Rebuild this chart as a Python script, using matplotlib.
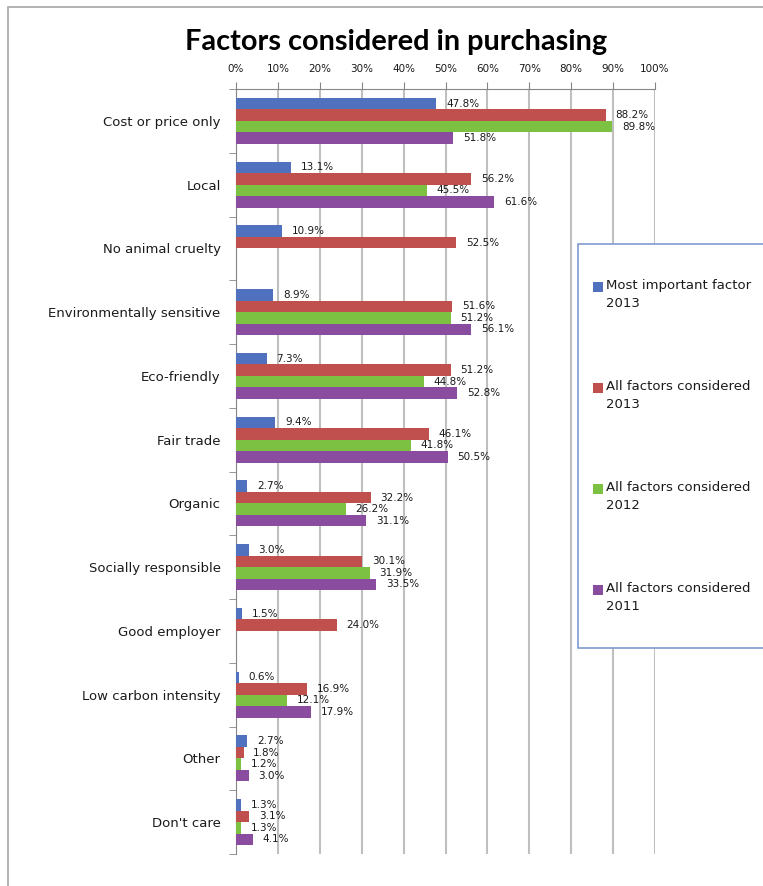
import numpy as np
import matplotlib
matplotlib.use('Agg')
import matplotlib.pyplot as plt
from matplotlib.patches import Rectangle, Patch
from matplotlib.legend_handler import HandlerPatch
from matplotlib.ticker import FixedLocator, PercentFormatter

# data
categories = ['Cost or price only', 'Local', 'No animal cruelty', 'Environmentally sensitive',
              'Eco-friendly', 'Fair trade', 'Organic', 'Socially responsible',
              'Good employer', 'Low carbon intensity', 'Other', "Don't care"]
series_names = ['Most important factor\n2013', 'All factors considered\n2013',
                'All factors considered\n2012', 'All factors considered\n2011']
most_2013 = [47.8, 13.1, 10.9, 8.9, 7.3, 9.4, 2.7, 3.0, 1.5, 0.6, 2.7, 1.3]
all_2013 = [88.2, 56.2, 52.5, 51.6, 51.2, 46.1, 32.2, 30.1, 24.0, 16.9, 1.8, 3.1]
all_2012 = [89.8, 45.5, np.nan, 51.2, 44.8, 41.8, 26.2, 31.9, np.nan, 12.1, 1.2, 1.3]
all_2011 = [51.8, 61.6, np.nan, 56.1, 52.8, 50.5, 31.1, 33.5, np.nan, 17.9, 3.0, 4.1]
colors = ['#4F71BE', '#C0504D', '#7DC143', '#8A4C9E']

W, H = 763, 886
fig = plt.figure(figsize=(W / 100, H / 100), dpi=100)

# outer chart border
fig.add_artist(Rectangle((8 / W, -0.05), 1.1, 1 - 7 / H + 0.05, transform=fig.transFigure,
                         fill=False, edgecolor='#A6A6A6', linewidth=1.2))

ax = fig.add_axes([236 / W, 1 - 854 / H, (655 - 236) / W, (854 - 89) / H])

y = np.arange(len(categories))
h = 0.18
all_series = [most_2013, all_2013, all_2012, all_2011]
for j, (vals, col) in enumerate(zip(all_series, colors)):
    vals = np.array(vals, dtype=float)
    pos = y + (j - 1.5) * h
    ax.barh(pos, vals, height=h, color=col, edgecolor='none', zorder=3)
    for p, v in zip(pos, vals):
        if np.isnan(v):
            continue
        ax.annotate(f'{v:.1f}%', (v, p), xytext=(7, 0), textcoords='offset points',
                    va='center', ha='left', fontsize=7.5, color='#1a1a1a', zorder=4)

ax.set_xlim(0, 100)
ax.set_ylim(len(categories) - 0.5, -0.5)
ax.xaxis.tick_top()
ax.set_xticks(np.arange(0, 101, 10))
ax.xaxis.set_major_formatter(PercentFormatter(decimals=0))
ax.tick_params(axis='x', labelsize=7.5, length=5, color='#868686', pad=6, labelcolor='#1a1a1a')
ax.grid(axis='x', color='#BFBFBF', linewidth=1.5, zorder=0)

ax.set_yticks(y)
ax.set_yticklabels(categories, fontsize=9.5, color='#1a1a1a')
ax.tick_params(axis='y', which='major', length=0, pad=11)
ax.yaxis.set_minor_locator(FixedLocator(np.arange(-0.5, len(categories), 1.0)))
ax.tick_params(axis='y', which='minor', length=5, color='#868686')

for s in ['right', 'bottom']:
    ax.spines[s].set_visible(False)
ax.spines['top'].set_color('#868686')
ax.spines['left'].set_color('#868686')

fig.text(396 / W, 1 - 42 / H, 'Factors considered in purchasing', ha='center', va='center',
         fontsize=20.8, fontweight='bold', family=['Lato', 'DejaVu Sans'])


# legend: square marker aligned with the first text line
def top_square(legend, orig_handle, xdescent, ydescent, width, height, fontsize):
    s = 0.75 * fontsize
    return Rectangle((-xdescent, -ydescent + height - s + 0.1 * fontsize), s, s)


fig.add_artist(Rectangle((578 / W, 1 - 648 / H), 0.5, (648 - 244) / H, transform=fig.transFigure,
                         facecolor='white', edgecolor='#7F9BCF', linewidth=1.2, zorder=5))
handles = [Patch(facecolor=c, edgecolor='none') for c in colors]
leg = fig.legend(handles, series_names, loc='upper left', bbox_to_anchor=(581 / W, 1 - 267 / H),
                 frameon=False, fontsize=9.5, handlelength=0.75, handleheight=2.4,
                 handletextpad=0.25, labelspacing=5.3,
                 handler_map={Patch: HandlerPatch(patch_func=top_square)})
leg.set_zorder(6)
for t in leg.get_texts():
    t.set_linespacing(1.5)
    t.set_color('#1a1a1a')

fig.savefig('out.png', dpi=100)
